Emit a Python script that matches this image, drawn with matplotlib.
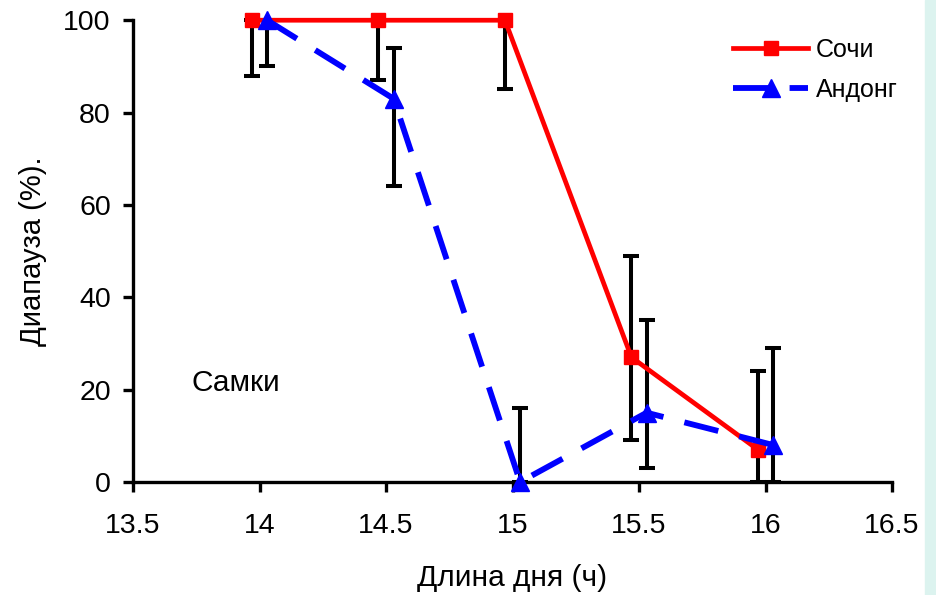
import numpy as np
import matplotlib
matplotlib.use('Agg')
import matplotlib.pyplot as plt
from matplotlib.patches import Rectangle

plt.rcParams['font.family'] = ['Liberation Sans', 'DejaVu Sans']

# Длина дня (ч)
dni = [14, 14.5, 15, 15.5, 16]
sdvig = 0.03  # точки серий разнесены немного по x

sochi = [100, 100, 100, 27, 7]
sochi_niz = [88, 87, 85, 9, 0]
sochi_verh = [100, 100, 100, 49, 24]

andong = [100, 83, 0, 15, 8]
andong_niz = [90, 64, 0, 3, 0]
andong_verh = [100, 94, 16, 35, 29]

fig = plt.figure(figsize=(9.37, 5.95), dpi=100)
ax = fig.add_axes([0.142, 0.19, 0.81, 0.776])

# полоска справа
fig.patches.append(Rectangle((925/937, 0), 12/937, 1, transform=fig.transFigure,
                             color='#dcf3ef', zorder=0))

xs = np.array(dni) - sdvig
xa = np.array(dni) + sdvig

def oshibki(y, niz, verh):
    y = np.array(y)
    return [y - np.array(niz), np.array(verh) - y]

for x, y, n, v in [(xs, sochi, sochi_niz, sochi_verh), (xa, andong, andong_niz, andong_verh)]:
    ax.errorbar(x, y, yerr=oshibki(y, n, v), fmt='none', ecolor='black',
                elinewidth=2.9, capsize=5.5, capthick=2.9, zorder=1, clip_on=False)

ax.plot(xs, sochi, color='red', lw=3.4, marker='s', ms=10, label='Сочи', zorder=3,
        clip_on=False)
ax.plot(xa, andong, color='blue', lw=4.2, ls=(0, (6, 3.7)), marker='^', ms=13,
        label='Андонг', zorder=4, clip_on=False)

ax.set_xlim(13.5, 16.5)
ax.set_ylim(0, 100)
ax.set_xticks([13.5, 14, 14.5, 15, 15.5, 16, 16.5])
ax.set_xticklabels(['13.5', '14', '14.5', '15', '15.5', '16', '16.5'])
ax.set_yticks([0, 20, 40, 60, 80, 100])

for s in ['top', 'right']:
    ax.spines[s].set_visible(False)
for s in ['left', 'bottom']:
    ax.spines[s].set_linewidth(2.4)
ax.tick_params(axis='both', direction='out', width=2.4, length=7, labelsize=20.5)
ax.tick_params(axis='x', pad=15)
ax.tick_params(axis='y', pad=9)

ax.set_xlabel('Длина дня (ч)', fontsize=21.5, labelpad=18)
ax.set_ylabel('Диапауза (%).', fontsize=21, labelpad=12)

ax.text(13.73, 21.5, 'Самки', fontsize=21.5, va='center')

leg = ax.legend(loc='upper left', bbox_to_anchor=(0.761, 1.01), frameon=False,
                fontsize=18, handlelength=3.0, handletextpad=0.3, labelspacing=0.62)

fig.savefig('out.png', dpi=100)
